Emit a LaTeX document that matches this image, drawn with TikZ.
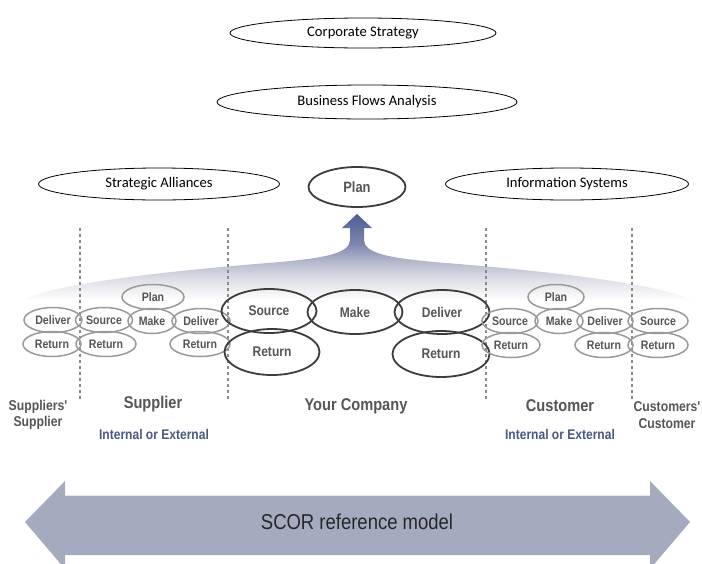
\documentclass[tikz,border=0pt]{standalone}
\usepackage{fontspec}
\setmainfont{Liberation Sans}
\newfontfamily\narrowsans[FakeStretch=0.86]{Liberation Sans}
\newfontfamily\calibrifont{Carlito}
\usetikzlibrary{shapes.geometric}

\definecolor{procgray}{HTML}{555555}
\definecolor{thinring}{HTML}{9A9A9A}
\definecolor{thickring}{HTML}{3C3C3C}
\definecolor{scorblue}{HTML}{A4ABBE}
\definecolor{subblue}{HTML}{4B5880}
\definecolor{dashgray}{HTML}{8A8A8A}
\definecolor{bandA}{HTML}{4E5C94}
\definecolor{bandB}{HTML}{7F88B0}
\definecolor{bandC}{HTML}{B6BACD}
\definecolor{bandD}{HTML}{E0E1E8}

% vertical shading of the rising "Plan" band (bbox maps to 25bp..75bp)
\pgfdeclareverticalshading{bandshade}{100bp}{%
  color(0bp)=(white); color(25bp)=(white); color(30bp)=(white);
  color(40.6bp)=(bandD); color(50bp)=(bandC); color(59bp)=(bandB);
  color(75bp)=(bandA); color(100bp)=(bandA)}

\tikzset{
  topoval/.style={ellipse, draw=black, line width=0.8pt, inner sep=0pt,
    font=\calibrifont\fontsize{14.6}{16}\selectfont},
  smallproc/.style={ellipse, draw=thinring, line width=1.5pt, inner sep=0pt,
    minimum height=25pt, text=procgray,
    font=\narrowsans\bfseries\fontsize{12.3}{14}\selectfont},
  bigproc/.style={ellipse, draw=thickring, line width=1.8pt, inner sep=0pt,
    minimum width=95pt, minimum height=44pt, text=procgray,
    font=\narrowsans\bfseries\fontsize{14}{16}\selectfont},
  partylabel/.style={text=procgray, align=center,
    font=\narrowsans\bfseries\fontsize{17}{19}\selectfont},
  smalllabel/.style={text=procgray, align=center,
    font=\narrowsans\bfseries\fontsize{14.2}{16.5}\selectfont},
  sublabel/.style={text=subblue,
    font=\narrowsans\bfseries\fontsize{14}{16}\selectfont},
  boundary/.style={draw=dashgray, line width=1.1pt, dash pattern=on 3pt off 3pt}
}

\begin{document}
\begin{tikzpicture}[x=1pt,y=-1pt]
\useasboundingbox (0,0) rectangle (702,563);
\fill[white] (0,0) rectangle (702,563);

% top-level planning ovals
\node[topoval, minimum width=266pt, minimum height=30pt] (corp) at (363,33) {Corporate Strategy};
\node[topoval, minimum width=300pt, minimum height=34pt] (flows) at (367,102) {Business Flows Analysis};
\node[topoval, minimum width=241pt, minimum height=32pt] (alliances) at (159,184) {Strategic Alliances};
\node[topoval, minimum width=243pt, minimum height=32pt] (infosys) at (567,184) {Information Systems};

% rising band feeding the Plan process
\path[shading=bandshade]
  (22,300) .. controls (60,282) and (180,270) .. (280,262)
  .. controls (322,258) and (350,254) .. (350,240)
  -- (350,228) -- (342,228) -- (357,214) -- (372,228) -- (364,228) -- (364,240)
  .. controls (364,254) and (392,258) .. (434,262)
  .. controls (534,270) and (654,282) .. (692,300)
  -- (692,310) -- (22,310) -- cycle;

\node[bigproc, minimum width=97pt, minimum height=40pt,
  font=\narrowsans\bfseries\fontsize{15}{17}\selectfont] (plan) at (357,187) {Plan};

% boundaries between the trading partners
\coordinate (b1t) at (80,228);  \coordinate (b1b) at (80,400);
\coordinate (b2t) at (228,228); \coordinate (b2b) at (228,400);
\coordinate (b3t) at (486,228); \coordinate (b3b) at (486,400);
\coordinate (b4t) at (632,228); \coordinate (b4b) at (632,400);
\draw[boundary] (b1t) -- (b1b);
\draw[boundary] (b2t) -- (b2b);
\draw[boundary] (b3t) -- (b3b);
\draw[boundary] (b4t) -- (b4b);

% supplier side
\node[smallproc, minimum width=58pt] (ssdel) at (53,320) {Deliver};
\node[smallproc, minimum width=58pt] (ssret) at (52,344) {Return};
\node[smallproc, minimum width=57pt] (ssrc) at (104,320) {Source};
\node[smallproc, minimum width=60pt] (sret1) at (106,344) {Return};
\node[smallproc, minimum width=62pt] (splan) at (153,297) {Plan};
\node[smallproc, minimum width=48pt] (smake) at (152,321) {Make};
\node[smallproc, minimum width=58pt] (sdel) at (201,321) {Deliver};
\node[smallproc, minimum width=60pt] (sret2) at (200,344) {Return};

% your company
\node[bigproc] (csrc) at (269,311) {Source};
\node[bigproc] (cmake) at (355,312) {Make};
\node[bigproc] (cdel) at (442,312) {Deliver};
\node[bigproc, minimum height=46pt] (cret1) at (272,352) {Return};
\node[bigproc, minimum width=97pt, minimum height=46pt] (cret2) at (441,354) {Return};

% customer side
\node[smallproc, minimum width=56pt] (usrc) at (510,321) {Source};
\node[smallproc, minimum width=58pt] (uret1) at (511,345) {Return};
\node[smallproc, minimum width=56pt] (uplan) at (556,297) {Plan};
\node[smallproc, minimum width=48pt] (umake) at (559,321) {Make};
\node[smallproc, minimum width=56pt] (udel) at (605,321) {Deliver};
\node[smallproc, minimum width=58pt] (uret2) at (604,345) {Return};
\node[smallproc, minimum width=60pt] (ccsrc) at (658,321) {Source};
\node[smallproc, minimum width=60pt] (ccret) at (658,345) {Return};

% partner captions
\node[smalllabel] (l1) at (38,415) {Suppliers'\\Supplier};
\node[partylabel] (l2) at (153,404) {Supplier};
\node[sublabel] (l2s) at (154,434) {Internal or External};
\node[partylabel] (l3) at (356,406) {Your Company};
\node[partylabel] (l4) at (560,406) {Customer};
\node[sublabel] (l4s) at (560,434) {Internal or External};
\node[smalllabel] (l5) at (667,415) {Customers'\\Customer};

% SCOR scope arrow
\fill[scorblue] (25,522) -- (65,481) -- (65,495) -- (650,495) -- (650,481)
  -- (690,522) -- (650,569) -- (650,555) -- (65,555) -- (65,569) -- cycle;
\draw[white!70!scorblue, line width=0.8pt] (65,495.5) -- (650,495.5);
\node[font=\narrowsans\fontsize{21.5}{24}\selectfont, text=black!85] (scor) at (357,522) {SCOR reference model};
\end{tikzpicture}
\end{document}
